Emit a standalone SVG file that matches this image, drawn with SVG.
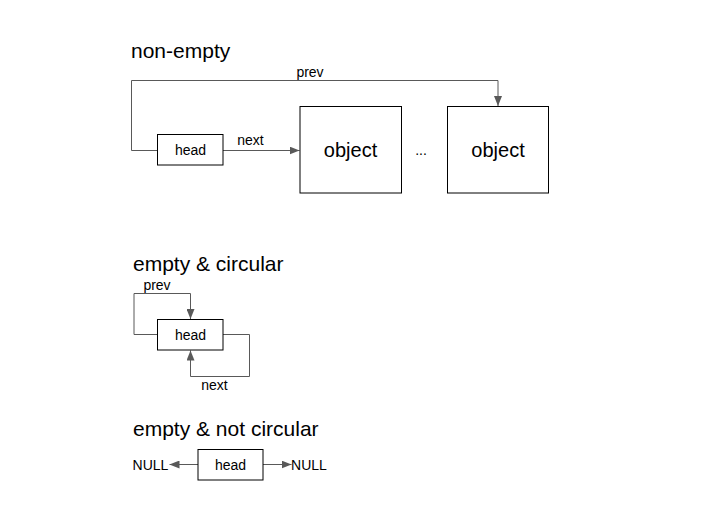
<svg xmlns="http://www.w3.org/2000/svg" width="701" height="524" viewBox="0 0 701 524">
<style>
text{font-family:"Liberation Sans",Arial,sans-serif;fill:#000}
.box{fill:#fff;stroke:#000;stroke-width:1}
.t{font-size:14px;text-anchor:middle;dominant-baseline:central}
.big{font-size:20px;text-anchor:middle;dominant-baseline:central}
.title{font-size:21px}
.lbl{font-size:14px}
.c{fill:none;stroke:#595959;stroke-width:1}
</style>
<defs>
<marker id="ah" markerWidth="10" markerHeight="8" refX="10" refY="4" orient="auto" markerUnits="userSpaceOnUse">
<path d="M0,0 L10,4 L0,8 Z" fill="#595959"/>
</marker>
</defs>
<rect width="701" height="524" fill="#fff"/>
<text class="title" x="131" y="58">non-empty</text>
<text class="title" x="133" y="271">empty &amp; circular</text>
<text class="title" x="133" y="436">empty &amp; not circular</text>
<g id="connectors">
<path class="c" d="M157.5,150.5 H131.5 V80.5 H498 V106" marker-end="url(#ah)"/>
<path class="c" d="M223,150.5 H299.5" marker-end="url(#ah)"/>
<path class="c" d="M157.5,334.5 H134 V293.5 H190.5 V319" marker-end="url(#ah)"/>
<path class="c" d="M223,334.5 H249.5 V376.5 H190.5 V350.5" marker-end="url(#ah)"/>
<path class="c" d="M198,464.5 H169.5" marker-end="url(#ah)"/>
<path class="c" d="M263,464.5 H291.5" marker-end="url(#ah)"/>
<text class="lbl" x="310" y="77" text-anchor="middle">prev</text>
<text class="lbl" x="250.5" y="145" text-anchor="middle">next</text>
<text class="lbl" x="157" y="290" text-anchor="middle">prev</text>
<text class="lbl" x="214.5" y="390" text-anchor="middle">next</text>
</g>
<g id="head1"><rect class="box" x="157.5" y="134.5" width="65.5" height="30.5"/><text class="t" x="190.5" y="150">head</text></g>
<g id="object1"><rect class="box" x="300" y="106.5" width="101.5" height="86.5"/><text class="big" x="350.5" y="150">object</text></g>
<g id="ellipsis"><text class="t" x="421" y="150">...</text></g>
<g id="object2"><rect class="box" x="447.5" y="106.5" width="101" height="86.5"/><text class="big" x="498" y="150">object</text></g>
<g id="head2"><rect class="box" x="157.5" y="319.5" width="65.5" height="30.5"/><text class="t" x="190.5" y="335">head</text></g>
<g id="head3"><rect class="box" x="198" y="449.5" width="65" height="30.5"/><text class="t" x="230.5" y="465">head</text></g>
<g id="null1"><text class="t" x="150.5" y="465">NULL</text></g>
<g id="null2"><text class="t" x="309" y="465">NULL</text></g>
</svg>
